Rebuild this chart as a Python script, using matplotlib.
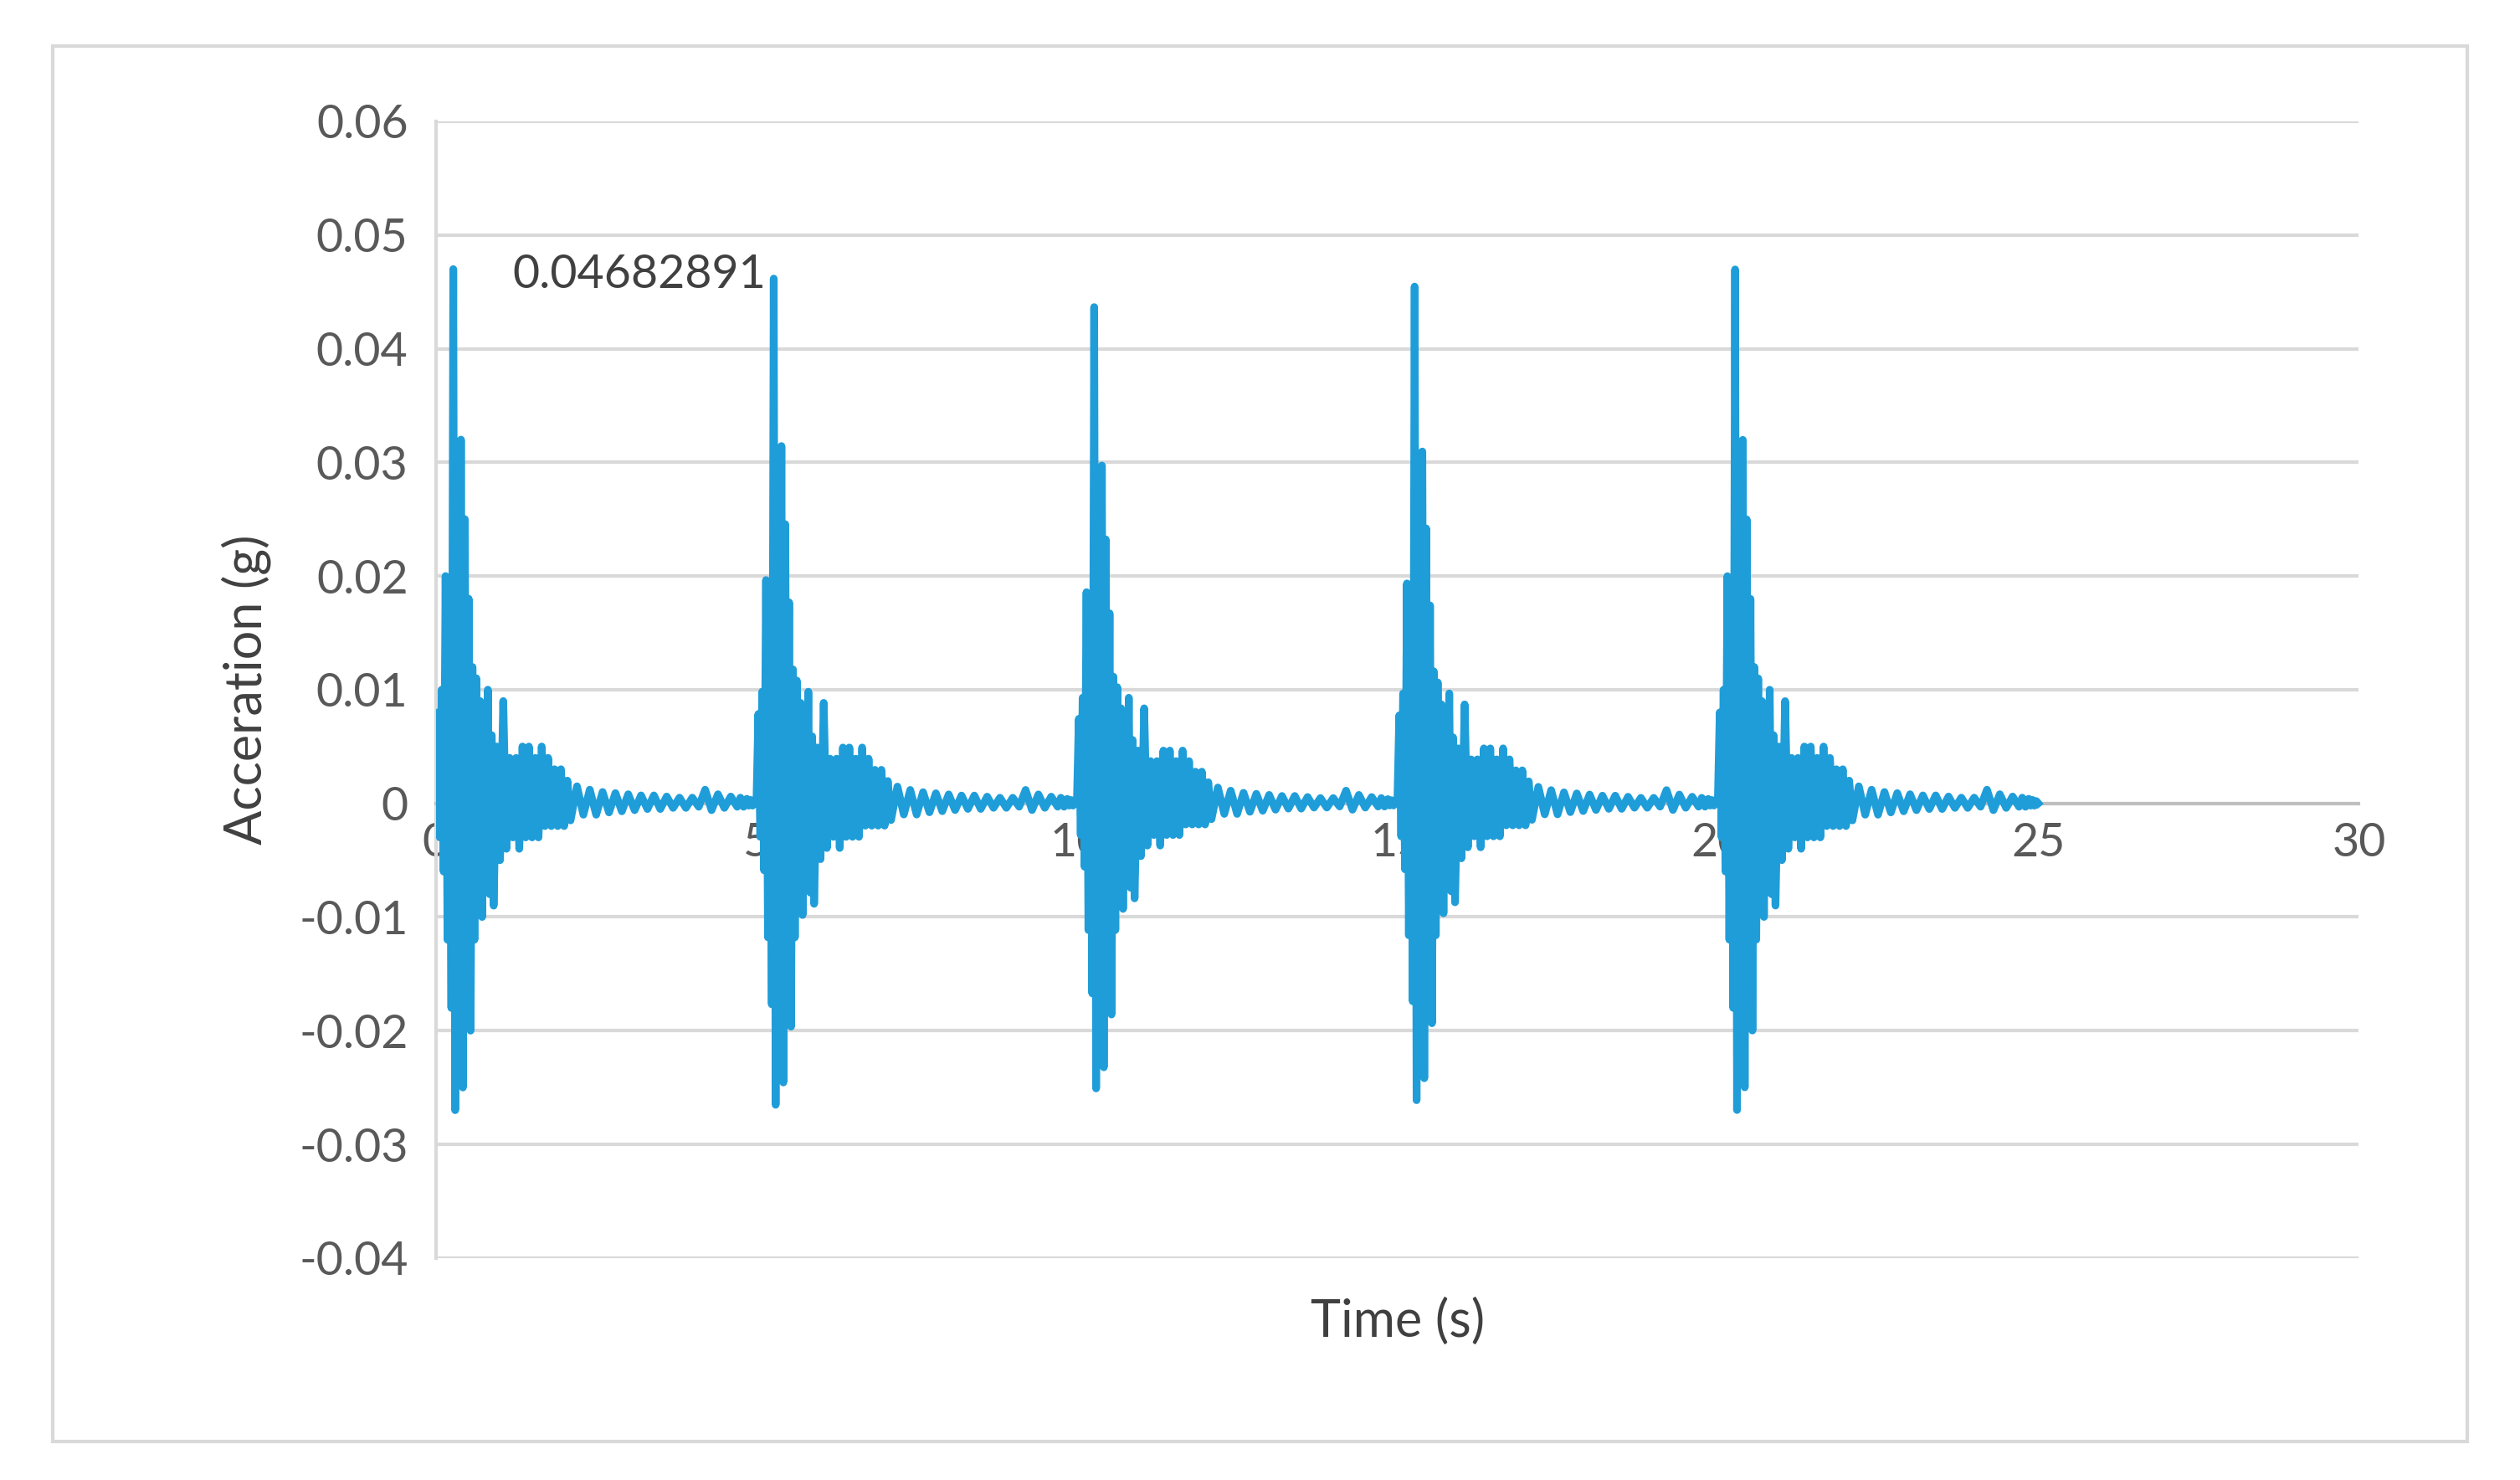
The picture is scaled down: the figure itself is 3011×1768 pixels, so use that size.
import numpy as np
import matplotlib.pyplot as plt

plt.rcParams['font.family'] = ['Lato', 'DejaVu Sans']

# Burst start times (s) and peak amplitude (g) of each burst
burst_starts = [0.0, 5.0, 10.0, 15.0, 20.0]
burst_peaks = [0.04682891, 0.0460, 0.0435, 0.0453, 0.0468]

# One burst shape (g), read from the first burst
burst_values = [0.0, 0.008, -0.003, 0.010, -0.006, 0.020, -0.012, 0.015, -0.018, 0.047,
                -0.027, 0.030, -0.022, 0.032, -0.025, 0.025, -0.015, 0.018, -0.020, 0.012,
                -0.012, 0.011, -0.008, 0.009, -0.010, 0.007, -0.006, 0.010, -0.008, 0.006,
                -0.009, 0.005, -0.005, 0.009, -0.004, 0.004, -0.003, 0.004, -0.004, 0.005,
                -0.003, 0.005, -0.003, 0.004, -0.003, 0.005, -0.002, 0.004, -0.002, 0.003,
                -0.002, 0.003, -0.002, 0.002, -0.0015, 0.0015, -0.001, 0.0012, -0.001, 0.001,
                -0.0008, 0.0009, -0.0007, 0.0008, -0.0006, 0.0007, -0.0005, 0.0007, -0.0005, 0.0006,
                -0.0004, 0.0005, -0.0004, 0.0005, -0.0003, 0.0012, -0.0006, 0.0008, -0.0004, 0.0006,
                -0.0003, 0.0005, -0.0003, 0.0004, -0.0002, 0.0003, -0.0002, 0.0002, 0.0]
burst_times = [0.00, 0.03, 0.06, 0.09, 0.12, 0.15, 0.18, 0.21, 0.24, 0.27,
               0.30, 0.33, 0.36, 0.39, 0.42, 0.45, 0.48, 0.51, 0.54, 0.57,
               0.60, 0.63, 0.66, 0.69, 0.72, 0.75, 0.78, 0.81, 0.84, 0.87,
               0.90, 0.95, 1.00, 1.05, 1.10, 1.15, 1.20, 1.25, 1.30, 1.35,
               1.40, 1.45, 1.50, 1.55, 1.60, 1.65, 1.70, 1.75, 1.80, 1.85,
               1.90, 1.95, 2.00, 2.05, 2.10, 2.20, 2.30, 2.40, 2.50, 2.60,
               2.70, 2.80, 2.90, 3.00, 3.10, 3.20, 3.30, 3.40, 3.50, 3.60,
               3.70, 3.80, 3.90, 4.00, 4.10, 4.20, 4.30, 4.40, 4.50, 4.60,
               4.70, 4.75, 4.80, 4.85, 4.88, 4.91, 4.94, 4.97, 5.00]

t_all, v_all = [], []
for s, p in zip(burst_starts, burst_peaks):
    scale = p / 0.04682891
    for tt, vv in zip(burst_times, burst_values):
        t_all.append(s + tt)
        v_all.append(vv * scale)
t_all = np.array(t_all); v_all = np.array(v_all)
mask = t_all <= 25.3
t_all, v_all = t_all[mask], v_all[mask]

fig = plt.figure(figsize=(15.055, 8.84), dpi=200)
fig.add_artist(plt.Rectangle((0.021, 0.026), 0.958, 0.943, fill=False,
                             edgecolor='#d9d9d9', linewidth=1.5, transform=fig.transFigure))
ax = fig.add_axes([0.173, 0.150, 0.763, 0.768])
ax.set_xlim(0, 30)
ax.set_ylim(-0.04, 0.06)
yt = [-0.04, -0.03, -0.02, -0.01, 0, 0.01, 0.02, 0.03, 0.04, 0.05, 0.06]
ax.set_yticks(yt)
ax.set_yticklabels(['-0.04', '-0.03', '-0.02', '-0.01', '0', '0.01', '0.02', '0.03', '0.04', '0.05', '0.06'])
ax.set_xticks([0, 5, 10, 15, 20, 25, 30])
ax.grid(axis='y', color='#d9d9d9', linewidth=1.5)
ax.set_axisbelow(True)
for sp in ['top', 'right']:
    ax.spines[sp].set_visible(False)
ax.spines['bottom'].set_position(('data', 0))
ax.spines['bottom'].set_color('#bfbfbf')
ax.spines['bottom'].set_linewidth(1.5)
ax.spines['left'].set_color('#d9d9d9')
ax.spines['left'].set_linewidth(1.5)
ax.tick_params(length=0, labelsize=20, colors='#595959', pad=12)
ax.tick_params(axis='x', pad=8)
ax.plot(t_all, v_all, color='#1f9dd9', linewidth=3.3, zorder=3)
ax.text(1.2, 0.0465, '0.04682891', fontsize=20, color='#404040', va='center')
ax.set_xlabel('Time (s)', fontsize=22, color='#404040')
ax.xaxis.set_label_coords(0.5, -0.035)
ax.set_ylabel('Acceration (g)', fontsize=22, color='#404040', labelpad=12)
fig.savefig('out.png', dpi=200)
